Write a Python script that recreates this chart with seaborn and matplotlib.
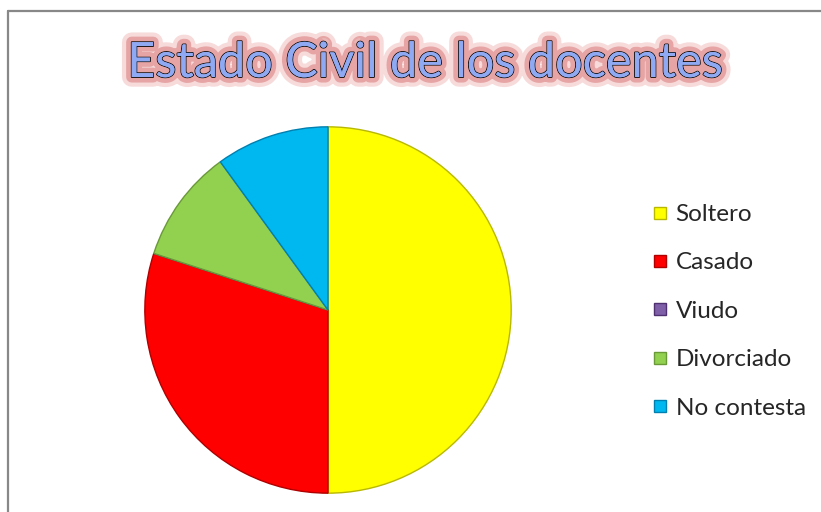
import matplotlib
matplotlib.use("Agg")
import matplotlib.pyplot as plt
import matplotlib.patheffects as pe
from matplotlib.lines import Line2D
import seaborn as sns

categories = ["Soltero", "Casado", "Viudo", "Divorciado", "No contesta"]
values = [50, 30, 0, 10, 10]
colors = ["#FFFF00", "#FF0000", "#7F5FA8", "#92D050", "#00B8F0"]
edge_colors = ["#B8B800", "#B00000", "#4F3070", "#6A9A38", "#0080B0"]
title = "Estado Civil de los docentes"

sns.set_theme(style="white")
plt.rcParams["font.family"] = ["Lato", "DejaVu Sans"]

W, H = 821, 512
fig = plt.figure(figsize=(W / 100, H / 100), dpi=100)
fig.patch.set_facecolor("white")

# chart frame (gray border)
fig.add_artist(Line2D([8 / W, 1.0], [1 - 11 / H, 1 - 11 / H], color="#888888", lw=1.6))
fig.add_artist(Line2D([8 / W, 8 / W], [0.0, 1 - 11 / H], color="#888888", lw=1.6))

cx, cy, r = 328, 310, 185
ax = fig.add_axes([(cx - r) / W, (H - cy - r) / H, 2 * r / W, 2 * r / H])
wedges, _ = ax.pie(values, colors=colors, startangle=90, counterclock=False,
                   radius=1.0, wedgeprops=dict(linewidth=1.0))
for w, ec in zip(wedges, edge_colors):
    w.set_edgecolor(ec)
ax.set_xlim(-1.01, 1.01)
ax.set_ylim(-1.01, 1.01)
ax.set_aspect("equal")
ax.axis("off")

# title
fig.text(425 / W, 1 - 63 / H, title, ha="center", va="center", fontsize=35,
         color="#8FAAF2", family=["Lato", "DejaVu Sans"], fontweight="normal",
         path_effects=[pe.withStroke(linewidth=14, foreground="#F0B8B8", alpha=0.5),
                       pe.withStroke(linewidth=8, foreground="#D87878", alpha=0.55),
                       pe.withStroke(linewidth=1.2, foreground="black"),
                       pe.Normal()])

# legend
handles = [Line2D([0], [0], marker="s", linestyle="none", markersize=9,
                  markerfacecolor=c, markeredgecolor=ec, markeredgewidth=1.0)
           for c, ec in zip(colors, edge_colors)]
leg = fig.legend(handles, categories, loc="upper left",
                 bbox_to_anchor=(650 / W, 1 - 204 / H), frameon=False,
                 fontsize=17.5, handlelength=0.8, handletextpad=0.25,
                 labelspacing=1.13, borderaxespad=0, borderpad=0)

fig.savefig("out.png", dpi=100, facecolor="white")
